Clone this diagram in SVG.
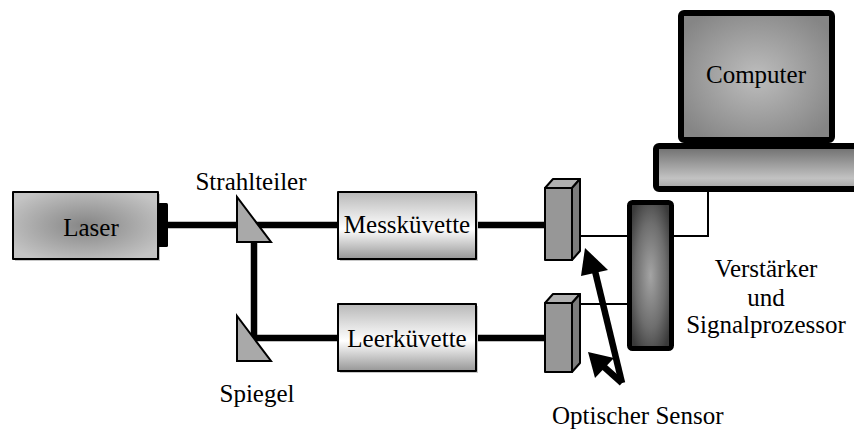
<svg xmlns="http://www.w3.org/2000/svg" width="854" height="433" viewBox="0 0 854 433">
  <defs>
    <radialGradient id="laserFill" cx="0.5" cy="0.5" r="0.6">
      <stop offset="0" stop-color="#858585"/>
      <stop offset="1" stop-color="#c4c4c4"/>
    </radialGradient>
    <linearGradient id="cellFill" x1="0" y1="0" x2="0" y2="1">
      <stop offset="0" stop-color="#b8b8b8"/>
      <stop offset="0.55" stop-color="#ffffff"/>
      <stop offset="1" stop-color="#979797"/>
    </linearGradient>
    <radialGradient id="monitorFill" cx="0.5" cy="0.5" r="0.6">
      <stop offset="0" stop-color="#bdbdbd"/>
      <stop offset="1" stop-color="#858585"/>
    </radialGradient>
    <linearGradient id="baseFill" x1="0" y1="0" x2="0" y2="1">
      <stop offset="0" stop-color="#6c6c6c"/>
      <stop offset="0.75" stop-color="#c2c2c2"/>
      <stop offset="1" stop-color="#a2a2a2"/>
    </linearGradient>
    <radialGradient id="procFill" cx="0.5" cy="0.5" r="0.6" fx="0.5" fy="0.5">
      <stop offset="0" stop-color="#a4a4a4"/>
      <stop offset="0.6" stop-color="#6e6e6e"/>
      <stop offset="1" stop-color="#3a3a3a"/>
    </radialGradient>
  </defs>
  <style>
    text { font-family: "Liberation Serif", "DejaVu Serif", serif; font-size: 25px; fill: #000; }
    .beam { stroke: #000; stroke-width: 6.5; fill: none; }
    .wire { stroke: #000; stroke-width: 2; fill: none; }
    .prism { fill: #a9a9a9; stroke: #000; stroke-width: 2; stroke-linejoin: miter; }
    .shadow { fill: #c8c8c8; }
    .edge { stroke: #000; stroke-width: 2; stroke-linejoin: round; }
  </style>

  <!-- light path and signal wiring -->
  <g id="connectors">
    <path class="beam" d="M168 225 H338"/>
    <path class="beam" d="M254 240 V338 H338"/>
    <path class="beam" d="M476 225 H545"/>
    <path class="beam" d="M476 338 H545"/>
    <path class="wire" d="M580 236 H628"/>
    <path class="wire" d="M580 304 H628"/>
    <path class="wire" d="M674 236 H708 V191"/>
    <!-- double arrow towards the sensors -->
    <path class="beam" d="M622 383 L595 271" stroke-linecap="butt"/>
    <path class="beam" d="M622 383 L603 366" stroke-linecap="butt"/>
    <polygon points="585,248 581,276 608,270" fill="#000"/>
    <polygon points="588,352 595,378 614,358" fill="#000"/>
  </g>

  <g id="laser">
    <rect class="shadow" x="15" y="194" width="145" height="67"/>
    <rect x="13" y="192" width="145" height="67" fill="url(#laserFill)" class="edge"/>
    <rect x="158" y="203" width="10" height="44" rx="1.5" fill="#000"/>
    <text x="91" y="236" text-anchor="middle" font-family="Liberation Serif, serif">Laser</text>
  </g>

  <g id="strahlteiler">
    <polygon class="prism" points="237,197 237,242 271,242"/>
    <text x="251" y="190" text-anchor="middle" font-family="Liberation Serif, serif">Strahlteiler</text>
  </g>

  <g id="spiegel">
    <polygon class="prism" points="237,316 237,361 271,361"/>
    <text x="257" y="402" text-anchor="middle" font-family="Liberation Serif, serif">Spiegel</text>
  </g>

  <g id="messkuevette">
    <rect class="shadow" x="340" y="194" width="138" height="67"/>
    <rect x="338" y="192" width="138" height="67" fill="url(#cellFill)" class="edge"/>
    <text x="407" y="233" text-anchor="middle" font-family="Liberation Serif, serif">Messküvette</text>
  </g>

  <g id="leerkuevette">
    <rect class="shadow" x="340" y="306" width="138" height="67"/>
    <rect x="338" y="304" width="138" height="67" fill="url(#cellFill)" class="edge"/>
    <text x="407" y="347" text-anchor="middle" font-family="Liberation Serif, serif">Leerküvette</text>
  </g>

  <g id="sensor-oben" class="edge">
    <polygon points="545,188 553,179 580,179 572,188" fill="#b0b0b0"/>
    <polygon points="572,188 580,179 580,251 572,260" fill="#7c7c7c"/>
    <rect x="545" y="188" width="27" height="72" fill="#979797"/>
  </g>

  <g id="sensor-unten" class="edge">
    <polygon points="545,303 553,294 580,294 572,303" fill="#b0b0b0"/>
    <polygon points="572,303 580,294 580,363 572,372" fill="#7c7c7c"/>
    <rect x="545" y="303" width="27" height="69" fill="#979797"/>
  </g>

  <g id="sensor-label">
    <text x="552" y="424" font-family="Liberation Serif, serif">Optischer Sensor</text>
  </g>

  <g id="signalprozessor">
    <rect x="629.5" y="202.5" width="42" height="146" rx="3" fill="url(#procFill)" stroke="#000" stroke-width="5"/>
    <text x="766" y="277" text-anchor="middle" font-family="Liberation Serif, serif">Verstärker</text>
    <text x="766" y="306" text-anchor="middle" font-family="Liberation Serif, serif">und</text>
    <text x="766" y="333" text-anchor="middle" font-family="Liberation Serif, serif">Signalprozessor</text>
  </g>

  <g id="computer">
    <rect x="681" y="13" width="151" height="127" rx="3" fill="url(#monitorFill)" stroke="#000" stroke-width="6"/>
    <rect x="656" y="146" width="210" height="43" rx="3" fill="url(#baseFill)" stroke="#000" stroke-width="6"/>
    <text x="756" y="83" text-anchor="middle" font-family="Liberation Serif, serif">Computer</text>
  </g>
</svg>
